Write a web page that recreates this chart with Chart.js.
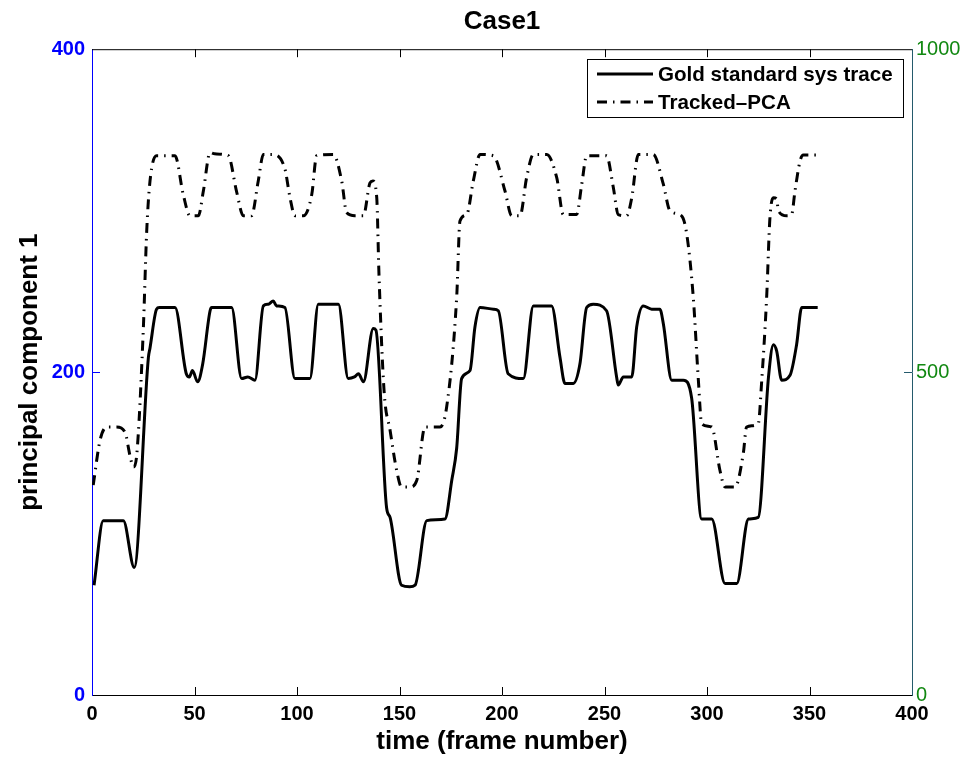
<!DOCTYPE html>
<html>
<head>
<meta charset="utf-8">
<title>Case1</title>
<script src="https://cdn.jsdelivr.net/npm/chart.js@4/dist/chart.umd.min.js"></script>
<style>
  html, body { margin: 0; padding: 0; background: #fff; }
</style>
</head>
<body>
<canvas id="myChart" width="962" height="757"></canvas>
<script>
// frame number / value pairs for the two traces
const goldFrames = [1, 5.5, 15.3, 20.6, 27.5, 28.3, 31.5, 32.8, 40.5, 46, 47.5, 49, 51.5, 54,
  57.6, 58.4, 68.1, 73, 76, 79.5, 83.6, 86, 88.4, 90, 94.1, 99, 106.3, 110.4, 120.2, 125,
  128, 130, 132.4, 137.2, 138.5, 143.7, 145.4, 151, 155, 157.6, 163.3, 172.2, 175.5, 177.9,
  180.3, 184.4, 186.8, 189.3, 195.8, 198.2, 203, 210.4, 215.3, 224.2, 228.3, 230.7, 234.8,
  238, 241.3, 244.5, 251, 255.9, 256.7, 259.2, 263.3, 265.7, 268.9, 273, 277, 278.7, 282.8,
  288.5, 292.5, 297.4, 302.3, 308.8, 314.5, 320.2, 325, 330, 332.4, 334, 336.4, 340.5,
  343.7, 346.2, 354];
const goldValues = [68, 108, 108, 79, 209, 215, 239, 240, 240, 199, 197, 201, 194, 205,
  238, 240, 240, 196, 197, 195, 241, 242, 244, 241, 240, 196, 196, 242, 242, 196,
  197, 199, 194, 227, 226, 116, 110, 68, 67, 68, 108, 109, 133, 153,
  196, 201, 228, 240, 239, 238, 199, 196, 241, 241, 209, 193, 193,
  205, 240, 242, 238, 197, 192, 197, 197, 228, 241, 239, 239, 230, 195,
  195, 184, 109, 109, 69, 69, 109, 110, 197, 217, 213, 195, 198,
  217, 240, 240];

const pcaFrames = [0.6, 3.9, 7.2, 12, 16.1, 18.5, 20.2, 21.8, 25, 26.7, 28.3, 31.5, 40.5,
  44.5, 47.8, 51.9, 54.3, 57.6, 59.8, 66.5, 70.5, 73.8, 77.8, 81.1, 83.6, 87.6, 94, 96.6,
  99, 103.1, 107.2, 109.6, 117.7, 121.8, 124.2, 128.3, 132.4, 135.6, 137, 138.9, 140, 142.5,
  145.4, 148.6, 151, 155.1, 158.4, 162.4, 169.8, 173, 177.9, 179.5, 182.8, 186, 189.3,
  195.8, 201.5, 204.7, 208.8, 212, 215.3, 221.8, 226.7, 229.9, 236.4, 238.9, 241.3, 251,
  254.3, 256.7, 260.8, 263.3, 266.5, 273.8, 278.7, 281.9, 287.6, 290.1, 293.3, 295.8, 297.4,
  302.3, 306.3, 308.8, 313.7, 317.7, 319.3, 325, 326.7, 329.1, 330.7, 332.4, 334, 334.8,
  338.9, 341.3, 342.9, 345.4, 347, 353.5];
const pcaValues = [325, 394, 415, 415, 407, 371, 353, 371, 564, 719, 796, 835, 835,
  775, 742, 742, 780, 840, 838, 835, 780, 742, 742, 796, 837, 837, 816, 770,
  742, 742, 775, 835, 837, 796, 747, 742, 742, 793, 796, 770, 650, 470,
  410, 348, 322, 322, 332, 415, 415, 446, 616, 734, 744, 796, 837,
  835, 780, 742, 742, 801, 837, 837, 801, 744, 744, 791, 835, 835,
  786, 744, 742, 770, 837, 837, 791, 750, 742, 714, 616, 487, 420,
  415, 348, 322, 322, 374, 415, 420, 487, 616, 739, 770, 768, 750,
  742, 744, 780, 827, 836, 836];

const seriesNames = ['Gold standard sys trace', 'Tracked\u2013PCA'];
const frameTicks = [0, 50, 100, 150, 200, 250, 300, 350, 400];
const leftTicks = [0, 200, 400];
const rightTicks = [0, 500, 1000];

const FONT = "'Liberation Sans', Arial, Helvetica, sans-serif";
const RIGHT_AXIS = '#245a6c';
const PCA_DASH = [10, 6, 1.5, 6];

function toPoints(xs, ys) {
  return xs.map((x, i) => ({ x: x, y: ys[i] }));
}

// box on top, inward tick marks, legend in the upper right
const frameDecor = {
  id: 'frameDecor',
  afterDraw(chart) {
    const c = chart.ctx;
    const a = chart.chartArea;
    const sx = chart.scales.x, sl = chart.scales.y, sr = chart.scales.y1;
    c.save();
    c.lineWidth = 1;
    c.strokeStyle = '#000';
    c.beginPath();
    c.moveTo(a.left, a.top + 0.5);
    c.lineTo(a.right, a.top + 0.5);
    frameTicks.slice(1, -1).forEach(v => {
      const px = Math.round(sx.getPixelForValue(v)) + 0.5;
      c.moveTo(px, a.bottom);
      c.lineTo(px, a.bottom - 8);
      c.moveTo(px, a.top);
      c.lineTo(px, a.top + 8);
    });
    c.stroke();

    c.strokeStyle = '#0000ff';
    c.beginPath();
    leftTicks.slice(1, -1).forEach(v => {
      const py = Math.round(sl.getPixelForValue(v)) + 0.5;
      c.moveTo(a.left, py);
      c.lineTo(a.left + 8, py);
    });
    c.stroke();

    c.strokeStyle = RIGHT_AXIS;
    c.beginPath();
    rightTicks.slice(1, -1).forEach(v => {
      const py = Math.round(sr.getPixelForValue(v)) + 0.5;
      c.moveTo(a.right, py);
      c.lineTo(a.right - 8, py);
    });
    c.stroke();

    // legend
    const bx = 587, by = 59, bw = 316, bh = 58;
    c.fillStyle = '#fff';
    c.fillRect(bx, by, bw, bh);
    c.strokeStyle = '#000';
    c.lineWidth = 1;
    c.strokeRect(bx + 0.5, by + 0.5, bw, bh);
    const rows = [by + 15, by + 43];
    chart.data.datasets.forEach((ds, i) => {
      c.beginPath();
      c.lineWidth = ds.borderWidth;
      c.strokeStyle = ds.borderColor;
      c.setLineDash(ds.borderDash || []);
      c.moveTo(597, rows[i]);
      c.lineTo(653, rows[i]);
      c.stroke();
      c.setLineDash([]);
      c.fillStyle = '#000';
      c.font = 'bold 20.6px ' + FONT;
      c.textBaseline = 'middle';
      c.textAlign = 'left';
      c.fillText(ds.label, 658, rows[i] + 1);
    });
    c.restore();
  }
};

const ctx = document.getElementById('myChart').getContext('2d');
const myChart = new Chart(ctx, {
  type: 'line',
  data: {
    datasets: [{
      label: seriesNames[0],
      data: toPoints(goldFrames, goldValues),
      yAxisID: 'y',
      borderColor: '#000',
      borderWidth: 3,
      pointRadius: 0,
      cubicInterpolationMode: 'monotone',
      fill: false
    }, {
      label: seriesNames[1],
      data: toPoints(pcaFrames, pcaValues),
      yAxisID: 'y1',
      borderColor: '#000',
      borderWidth: 3,
      borderDash: PCA_DASH,
      pointRadius: 0,
      cubicInterpolationMode: 'monotone',
      fill: false
    }]
  },
  options: {
    responsive: false,
    animation: false,
    layout: { padding: 0 },
    plugins: {
      legend: { display: false },
      tooltip: { enabled: false },
      title: {
        display: true,
        text: 'Case1',
        color: '#000',
        fullSize: false,
        font: { family: FONT, size: 26, weight: 'bold' },
        padding: { top: 6, bottom: 12 }
      }
    },
    scales: {
      x: {
        type: 'linear',
        min: 0,
        max: 400,
        grid: { display: false, drawTicks: false },
        border: { display: true, color: '#000', width: 1 },
        ticks: {
          stepSize: 50,
          padding: 7,
          color: '#000',
          maxRotation: 0,
          font: { family: FONT, size: 20, weight: 'bold' }
        },
        title: {
          display: true,
          text: 'time (frame number)',
          color: '#000',
          font: { family: FONT, size: 26, weight: 'bold' },
          padding: { top: 0, bottom: 0 }
        },
        afterFit(scale) { scale.height = 62; }
      },
      y: {
        position: 'left',
        min: 0,
        max: 400,
        grid: { display: false, drawTicks: false },
        border: { display: true, color: '#0000ff', width: 1 },
        ticks: {
          stepSize: 200,
          padding: 7,
          color: '#0000ff',
          font: { family: FONT, size: 20, weight: 'bold' }
        },
        title: {
          display: true,
          text: 'principal component 1',
          color: '#000',
          font: { family: FONT, size: 26, weight: 'bold' },
          padding: { top: 14, bottom: 0 }
        },
        afterFit(scale) { scale.width = 92; }
      },
      y1: {
        position: 'right',
        min: 0,
        max: 1000,
        grid: { display: false, drawTicks: false },
        border: { display: true, color: RIGHT_AXIS, width: 1 },
        ticks: {
          stepSize: 500,
          padding: 4,
          color: '#118811',
          font: { family: FONT, size: 20 },
          callback: v => String(v)
        },
        afterFit(scale) { scale.width = 50; }
      }
    }
  },
  plugins: [frameDecor]
});
</script>
</body>
</html>
